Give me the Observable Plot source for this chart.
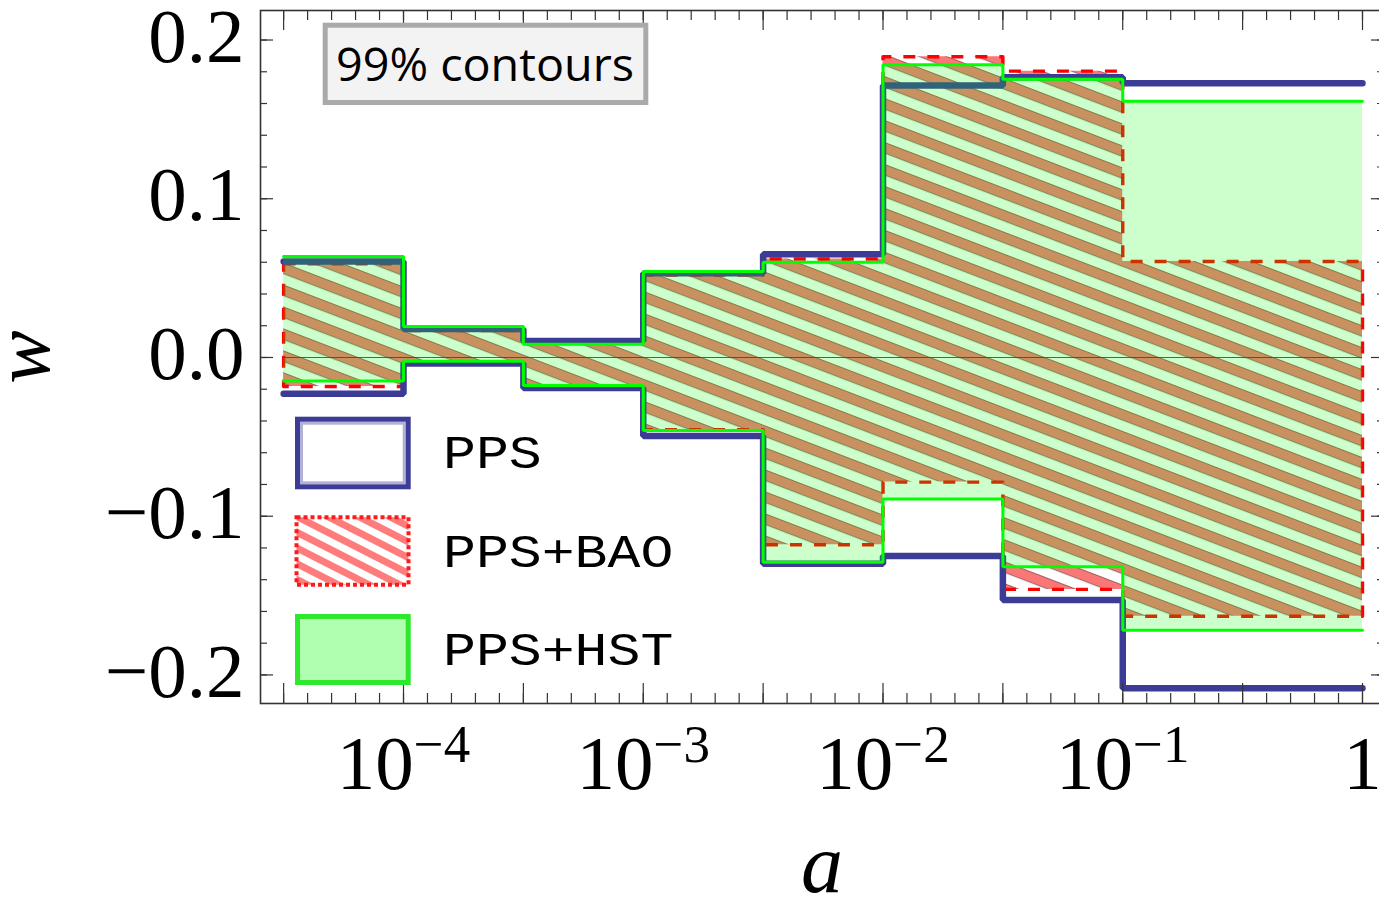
<!DOCTYPE html>
<html>
<head>
<meta charset="utf-8">
<script src="https://cdn.jsdelivr.net/npm/d3@7"></script>
<script src="https://cdn.jsdelivr.net/npm/@observablehq/plot@0.6"></script>
<style>
  html, body { margin: 0; padding: 0; background: #fff; overflow: hidden; }
  #wrap { position: relative; width: 1384px; height: 903px; overflow: hidden; }
  #chart svg { max-width: none !important; }
  #overlay { position: absolute; left: 0; top: 0; pointer-events: none; }
</style>
</head>
<body>
<svg width="0" height="0" style="position:absolute">
  <defs>
    <pattern id="baoHatch" patternUnits="userSpaceOnUse" width="80" height="20.5" patternTransform="rotate(21)">
      <rect x="0" y="0" width="80" height="10.5" fill="#fb7677"/>
      <line x1="0" x2="80" y1="0.4" y2="0.4" stroke="#3a3a3a" stroke-opacity="0.45" stroke-width="1.3"/>
      <line x1="0" x2="80" y1="10.3" y2="10.3" stroke="#3a3a3a" stroke-opacity="0.45" stroke-width="1.3"/>
    </pattern>
    <pattern id="legendHatch" patternUnits="userSpaceOnUse" width="80" height="14" patternTransform="rotate(27)">
      <rect x="0" y="0" width="80" height="7" fill="#ff7c7c"/>
    </pattern>
  </defs>
</svg>
<div id="wrap">
  <div id="chart"></div>
  <svg id="overlay" width="1384" height="903"></svg>
</div>
<script>
// ---------- data ----------
const binEdges = [10 ** -4.5, 1e-4, 10 ** -3.5, 1e-3, 10 ** -2.5, 1e-2, 10 ** -1.5, 1e-1, 1];

const ppsLow  = [-0.0229, -0.0038, -0.0193, -0.0494, -0.1300, -0.1250, -0.1528, -0.2084];
const ppsHigh = [ 0.0605,  0.0180,  0.0104,  0.0531,  0.0650,  0.1713,  0.1765,  0.1727];

const baoLow  = [-0.0183, -0.0030, -0.0185, -0.0455, -0.1180, -0.0785, -0.1461, -0.1630];
const baoHigh = [ 0.0590,  0.0170,  0.0095,  0.0520,  0.0620,  0.1895,  0.1804,  0.0605];

const hstLow  = [-0.0148, -0.0023, -0.0176, -0.0460, -0.1290, -0.0892, -0.1319, -0.1718];
const hstHigh = [ 0.0636,  0.0195,  0.0084,  0.0542,  0.0600,  0.1844,  0.1753,  0.1615];

const xLabelTicks = [1e-4, 1e-3, 1e-2, 1e-1, 1];
const xMajorTicks = [10 ** -4.5, 1e-4, 10 ** -3.5, 1e-3, 10 ** -2.5, 1e-2, 10 ** -1.5, 1e-1, 10 ** -0.5, 1];
const xMinorTicks = d3.range(-45, 1).map(k => 10 ** (k / 10));
const yMajorTicks = [-0.2, -0.1, 0, 0.1, 0.2];
const yMinorTicks = d3.range(-10, 11).map(k => k * 0.02);

const legendLabels = ["PPS", "PPS+BAO", "PPS+HST"];
const boxLabel = "99% contours";

// ---------- helpers to build tables ----------
function stepPoints(vals) {
  const pts = [];
  vals.forEach((v, i) => { pts.push({x: binEdges[i], y: v}); pts.push({x: binEdges[i + 1], y: v}); });
  return pts;
}
function bandRows(lo, hi) {
  return binEdges.map((e, i) => {
    const j = Math.min(i, lo.length - 1);
    return {x: e, lo: lo[j], hi: hi[j]};
  });
}
const baoOutline = (() => {
  const up = stepPoints(baoHigh);
  const dn = stepPoints(baoLow).reverse();
  return [...up, ...dn, up[0]];
})();

const W = 1384, H = 903;
const innerW = W - 260, innerH = H - 10 - 200;
const axisColor = "#333";
const navy = "#3c3c96";

const plot = Plot.plot({
  width: W, height: H,
  marginLeft: 260, marginRight: 0, marginTop: 10, marginBottom: 200,
  style: {fontFamily: "'Times New Roman', 'Liberation Serif', serif", background: "white", color: "black", maxWidth: "none"},
  x: {type: "log", domain: [10 ** -4.5965, 10 ** 0.0918], axis: null},
  y: {domain: [-0.218, 0.2186], axis: null},
  marks: [
    // PPS+BAO hatch and dashed outline
    Plot.areaY(bandRows(baoLow, baoHigh), {x: "x", y1: "lo", y2: "hi", curve: "step-after", fill: "url(#baoHatch)"}),
    Plot.line(baoOutline, {x: "x", y: "y", stroke: "#ff0000", strokeWidth: 3.4, strokeDasharray: "12,12", strokeLinecap: "butt"}),
    // PPS outline
    Plot.line(stepPoints(ppsHigh), {x: "x", y: "y", stroke: navy, strokeWidth: 6.5, strokeLinejoin: "miter"}),
    Plot.line(stepPoints(ppsLow), {x: "x", y: "y", stroke: navy, strokeWidth: 6.5, strokeLinejoin: "miter"}),
    // PPS+HST fill and outline
    Plot.areaY(bandRows(hstLow, hstHigh), {x: "x", y1: "lo", y2: "hi", curve: "step-after", fill: "#00ff00", fillOpacity: 0.2}),
    Plot.line(stepPoints(hstHigh), {x: "x", y: "y", stroke: "#00ff00", strokeWidth: 3, strokeLinejoin: "miter"}),
    Plot.line(stepPoints(hstLow), {x: "x", y: "y", stroke: "#00ff00", strokeWidth: 3, strokeLinejoin: "miter"}),
    // zero line
    Plot.ruleY([0], {x1: binEdges[0], x2: binEdges[binEdges.length - 1], stroke: "#444", strokeWidth: 1.2, strokeOpacity: 0.85}),
    // ticks: bottom and top
    Plot.ruleX(xMinorTicks, {x: d => d, insetTop: innerH - 10, stroke: axisColor, strokeWidth: 1.2}),
    Plot.ruleX(xMajorTicks, {x: d => d, insetTop: innerH - 20, stroke: axisColor, strokeWidth: 1.2}),
    Plot.ruleX(xMinorTicks, {x: d => d, insetBottom: innerH - 10, stroke: axisColor, strokeWidth: 1.2}),
    Plot.ruleX(xMajorTicks, {x: d => d, insetBottom: innerH - 20, stroke: axisColor, strokeWidth: 1.2}),
    // ticks: left and right
    Plot.ruleY(yMinorTicks, {y: d => d, insetRight: innerW - 7, stroke: axisColor, strokeWidth: 1.2}),
    Plot.ruleY(yMajorTicks, {y: d => d, insetRight: innerW - 13, stroke: axisColor, strokeWidth: 1.2}),
    Plot.ruleY(yMinorTicks, {y: d => d, insetLeft: innerW - 7, stroke: axisColor, strokeWidth: 1.2}),
    Plot.ruleY(yMajorTicks, {y: d => d, insetLeft: innerW - 13, stroke: axisColor, strokeWidth: 1.2}),
    Plot.frame({stroke: axisColor, strokeWidth: 1.6}),
    // tick labels
    Plot.axisY({ticks: yMajorTicks, tickSize: 0, tickPadding: 16, fontSize: 77, tickFormat: d3.format(".1f"), label: null, dy: -3}),
    Plot.axisX({ticks: xLabelTicks, tickSize: 0, tickPadding: 31, fontSize: 77, label: null,
      tickFormat: d => { const e = Math.round(Math.log10(d)); return e === 0 ? "1" : "10^" + e; }})
  ]
});
document.getElementById("chart").appendChild(plot);

// superscript exponents on x tick labels
d3.select(plot).selectAll('[aria-label="x-axis tick label"] text').each(function () {
  const s = this.textContent;
  const m = s.match(/^10\^(-?\d+)$/);
  if (!m) return;
  const t = d3.select(this);
  t.text(null);
  t.append("tspan").text("10");
  const e = +m[1];
  t.append("tspan").attr("dy", -27.5).attr("font-size", 53).text((e < 0 ? "\u2212" : "") + Math.abs(e));
});

// ---------- overlay: axis titles, legend, annotation box ----------
const ov = d3.select("#overlay");
const serif = "'Times New Roman', 'Liberation Serif', serif";

ov.append("text").attr("transform", "translate(49,357) rotate(-90)")
  .attr("text-anchor", "middle").attr("font-family", serif).attr("font-style", "italic")
  .attr("font-size", 80).text("w");
ov.append("text").attr("x", 822).attr("y", 892)
  .attr("text-anchor", "middle").attr("font-family", serif).attr("font-style", "italic")
  .attr("font-size", 84).text("a");

// annotation box
ov.append("rect").attr("x", 325.2).attr("y", 25.2).attr("width", 320.6).attr("height", 77.3)
  .attr("fill", "#f3f3f3").attr("stroke", "#aaaaaa").attr("stroke-width", 5);
ov.append("text").attr("x", 336).attr("y", 80.7)
  .attr("font-family", "'Open Sans', 'DejaVu Sans', sans-serif").attr("font-size", 46)
  .attr("textLength", 298).attr("lengthAdjust", "spacingAndGlyphs").text(boxLabel);

// legend swatches
// PPS
ov.append("rect").attr("x", 297.5).attr("y", 419.2).attr("width", 110.7).attr("height", 67.6)
  .attr("fill", "white").attr("stroke", navy).attr("stroke-width", 5);
ov.append("rect").attr("x", 301.5).attr("y", 423.2).attr("width", 102.7).attr("height", 59.6)
  .attr("fill", "none").attr("stroke", navy).attr("stroke-opacity", 0.4).attr("stroke-width", 3);
// PPS+BAO
ov.append("rect").attr("x", 296.5).attr("y", 517.2).attr("width", 112).attr("height", 67.5)
  .attr("fill", "url(#legendHatch)").attr("stroke", "#ff1a1a").attr("stroke-width", 4)
  .attr("stroke-dasharray", "4,3");
// PPS+HST
ov.append("rect").attr("x", 297.5).attr("y", 616.5).attr("width", 110.7).attr("height", 66)
  .attr("fill", "#00ff00").attr("fill-opacity", 0.31).attr("stroke", "#2ee82e").attr("stroke-width", 5);

const legendBaselines = [468, 566.7, 665];
legendLabels.forEach((lab, i) => {
  ov.append("text").attr("x", 443).attr("y", legendBaselines[i])
    .attr("font-family", "'Courier New', 'Liberation Mono', monospace").attr("font-size", 46)
    .attr("textLength", lab.length * 32.9).attr("lengthAdjust", "spacingAndGlyphs")
    .text(lab);
});
</script>
</body>
</html>
